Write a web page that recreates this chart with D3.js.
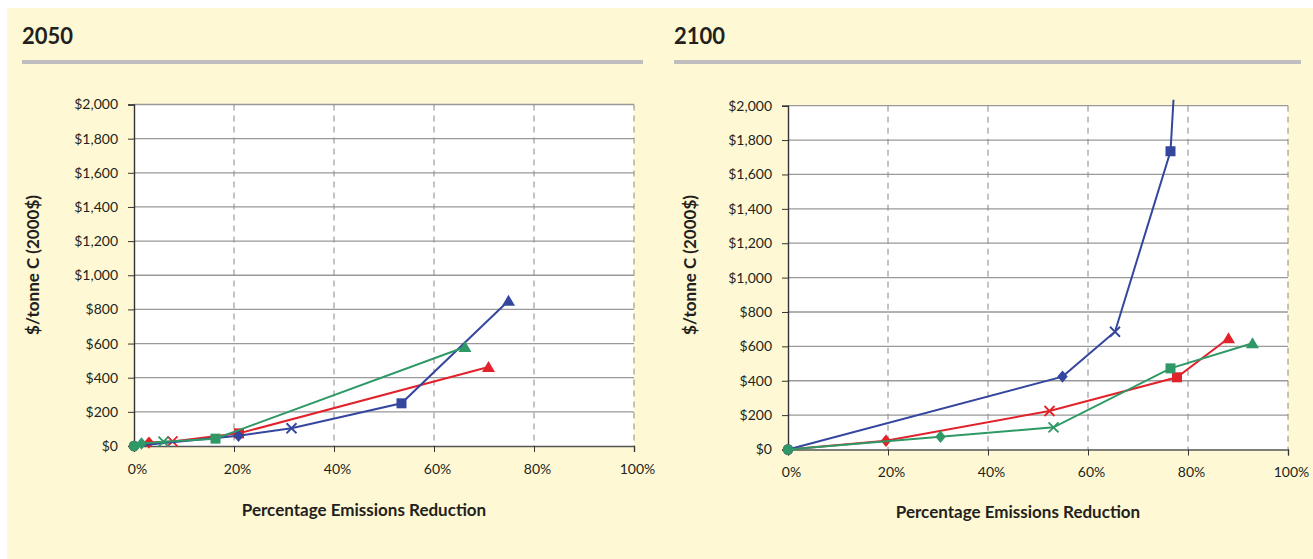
<!DOCTYPE html>
<html><head><meta charset="utf-8">
<script src="https://cdn.jsdelivr.net/npm/d3@7"></script>
<style>
html,body{margin:0;padding:0;background:#fff;}
svg{display:block;font-family:Lato,"Open Sans",sans-serif;}
</style></head>
<body>
<svg id="chart" width="1313" height="559"></svg>
<script>
// ---- data ----
const panelTitles = ["2050", "2100"];
const xTicks = [0, 20, 40, 60, 80, 100];
const yTicks = [0, 200, 400, 600, 800, 1000, 1200, 1400, 1600, 1800, 2000];
const xAxisTitle = "Percentage Emissions Reduction";
const yAxisTitle = "$/tonne C (2000$)";
const markerShapes = ["circle", "diamond", "x", "square", "triangle"];

const blue2050X = [0, 20.9, 31.5, 53.5, 74.9];
const blue2050Y = [0, 60, 104, 250, 851];
const red2050X = [0, 3, 7.7, 21, 70.9];
const red2050Y = [0, 20, 27, 74, 463];
const green2050X = [0, 1.5, 5.9, 16.3, 66.2];
const green2050Y = [0, 15, 25, 43, 580];

const blue2100X = [0, 54.9, 65.4, 76.5, 78];
const blue2100Y = [0, 424, 685, 1735, 2480];
const red2100X = [0, 19.6, 52.3, 77.8, 88.1];
const red2100Y = [0, 51, 224, 420, 647];
const green2100X = [0, 30.5, 53.1, 76.5, 92.9];
const green2100Y = [0, 74, 129, 472, 618];

const colors = {red: "#E2222B", blue: "#34469E", green: "#2E9966"};

const panels = [
  {title: panelTitles[0], titleX: 22, ruleX1: 22, ruleX2: 643, x0: 134, x1: 634, yTop: 104.5, yBot: 446,
   yLabX: 33, xLabX: 364, xLabY: 516,
   series: [
     {c: "red", x: red2050X, y: red2050Y},
     {c: "blue", x: blue2050X, y: blue2050Y},
     {c: "green", x: green2050X, y: green2050Y}]},
  {title: panelTitles[1], titleX: 674, ruleX1: 674, ruleX2: 1301, x0: 788, x1: 1288, yTop: 105.7, yBot: 449.5,
   yLabX: 690, xLabX: 1018, xLabY: 518,
   series: [
     {c: "red", x: red2100X, y: red2100Y},
     {c: "blue", x: blue2100X, y: blue2100Y},
     {c: "green", x: green2100X, y: green2100Y}]}
];

const svg = d3.select("#chart");
svg.append("rect").attr("x", 7).attr("y", 8).attr("width", 1306).attr("height", 551).attr("fill", "#FEF9D4");

function marker(g, shape, cx, cy, color) {
  if (shape === "circle") {
    g.append("circle").attr("cx", cx).attr("cy", cy).attr("r", 5.2).attr("fill", color);
  } else if (shape === "diamond") {
    g.append("path").attr("d", `M${cx},${cy-6.2}L${cx+5.2},${cy}L${cx},${cy+6.2}L${cx-5.2},${cy}Z`).attr("fill", color);
  } else if (shape === "square") {
    g.append("rect").attr("x", cx-5).attr("y", cy-5).attr("width", 10).attr("height", 10).attr("fill", color);
  } else if (shape === "triangle") {
    g.append("path").attr("d", `M${cx},${cy-6}L${cx+6.5},${cy+5}L${cx-6.5},${cy+5}Z`).attr("fill", color);
  } else if (shape === "x") {
    g.append("path").attr("d", `M${cx-5},${cy-5}L${cx+5},${cy+5}M${cx-5},${cy+5}L${cx+5},${cy-5}`)
      .attr("stroke", color).attr("stroke-width", 1.8).attr("fill", "none");
  }
}

panels.forEach((p, i) => {
  const g = svg.append("g");
  const x = d3.scaleLinear().domain([0, 100]).range([p.x0, p.x1]);
  const y = d3.scaleLinear().domain([0, 2000]).range([p.yBot, p.yTop]);

  // title + rule
  g.append("text").attr("x", p.titleX).attr("y", 44).attr("font-size", 22).attr("font-weight", 700)
    .attr("fill", "#231F20").text(p.title);
  g.append("rect").attr("x", p.ruleX1).attr("y", 60).attr("width", p.ruleX2 - p.ruleX1).attr("height", 4).attr("fill", "#BEBEBE");

  // plot background
  g.append("rect").attr("x", p.x0).attr("y", p.yTop).attr("width", p.x1 - p.x0).attr("height", p.yBot - p.yTop).attr("fill", "#fff");

  // horizontal gridlines
  g.selectAll(".hg").data(yTicks.filter(d => d > 0)).enter().append("line")
    .attr("x1", p.x0).attr("x2", p.x1).attr("y1", d => y(d)).attr("y2", d => y(d))
    .attr("stroke", "#999").attr("stroke-width", 1.3);
  // vertical dashed gridlines
  g.selectAll(".vg").data(xTicks.filter(d => d > 0)).enter().append("line")
    .attr("x1", d => x(d)).attr("x2", d => x(d)).attr("y1", p.yTop).attr("y2", p.yBot)
    .attr("stroke", "#888").attr("stroke-width", 1).attr("stroke-dasharray", "6,5");

  // axes
  const yAxis = d3.axisLeft(y).tickValues(yTicks).tickSize(6).tickPadding(10)
    .tickFormat(d => "$" + d3.format(",")(d));
  const ya = g.append("g").attr("transform", `translate(${p.x0},0)`).call(yAxis);
  ya.select(".domain").attr("stroke", "#333").attr("stroke-width", 1.4);
  ya.selectAll(".tick line").attr("stroke", "#333");
  ya.selectAll("text").attr("font-size", 14).attr("fill", "#231F20").attr("font-family", "Lato, sans-serif");

  const xAxis = d3.axisBottom(x).tickValues(xTicks).tickSize(6).tickPadding(12).tickFormat(d => d + "%");
  const xa = g.append("g").attr("transform", `translate(0,${p.yBot})`).call(xAxis);
  xa.select(".domain").attr("stroke", "#555").attr("stroke-width", 1.4);
  xa.selectAll(".tick line").attr("stroke", "#333");
  xa.selectAll("text").attr("font-size", 14).attr("fill", "#231F20").attr("dx", 3).attr("font-family", "Lato, sans-serif");

  // axis titles
  g.append("text").attr("x", p.xLabX).attr("y", p.xLabY).attr("text-anchor", "middle")
    .attr("font-size", 17).attr("font-weight", 700).attr("fill", "#231F20").text(xAxisTitle);
  g.append("text").attr("transform", `translate(${p.yLabX + 6},${265}) rotate(-90)`).attr("text-anchor", "middle")
    .attr("font-size", 17).attr("font-weight", 700).attr("fill", "#231F20").text(yAxisTitle);

  // clip
  const cid = "clip" + i;
  svg.append("clipPath").attr("id", cid).append("rect")
    .attr("x", p.x0 - 10).attr("y", p.yTop - 6).attr("width", p.x1 - p.x0 + 20).attr("height", p.yBot - p.yTop + 20);

  const line = d3.line().x(d => x(d[0])).y(d => y(d[1]));
  const sg = g.append("g").attr("clip-path", `url(#${cid})`);
  p.series.forEach(s => {
    const pts = s.x.map((v, k) => [v, s.y[k]]);
    sg.append("path").attr("d", line(pts)).attr("fill", "none").attr("stroke", colors[s.c]).attr("stroke-width", 2);
    pts.forEach((pt, k) => {
      if (pt[1] <= 2000) marker(sg, markerShapes[k], x(pt[0]), y(pt[1]), colors[s.c]);
    });
  });
});
</script>
</body></html>
